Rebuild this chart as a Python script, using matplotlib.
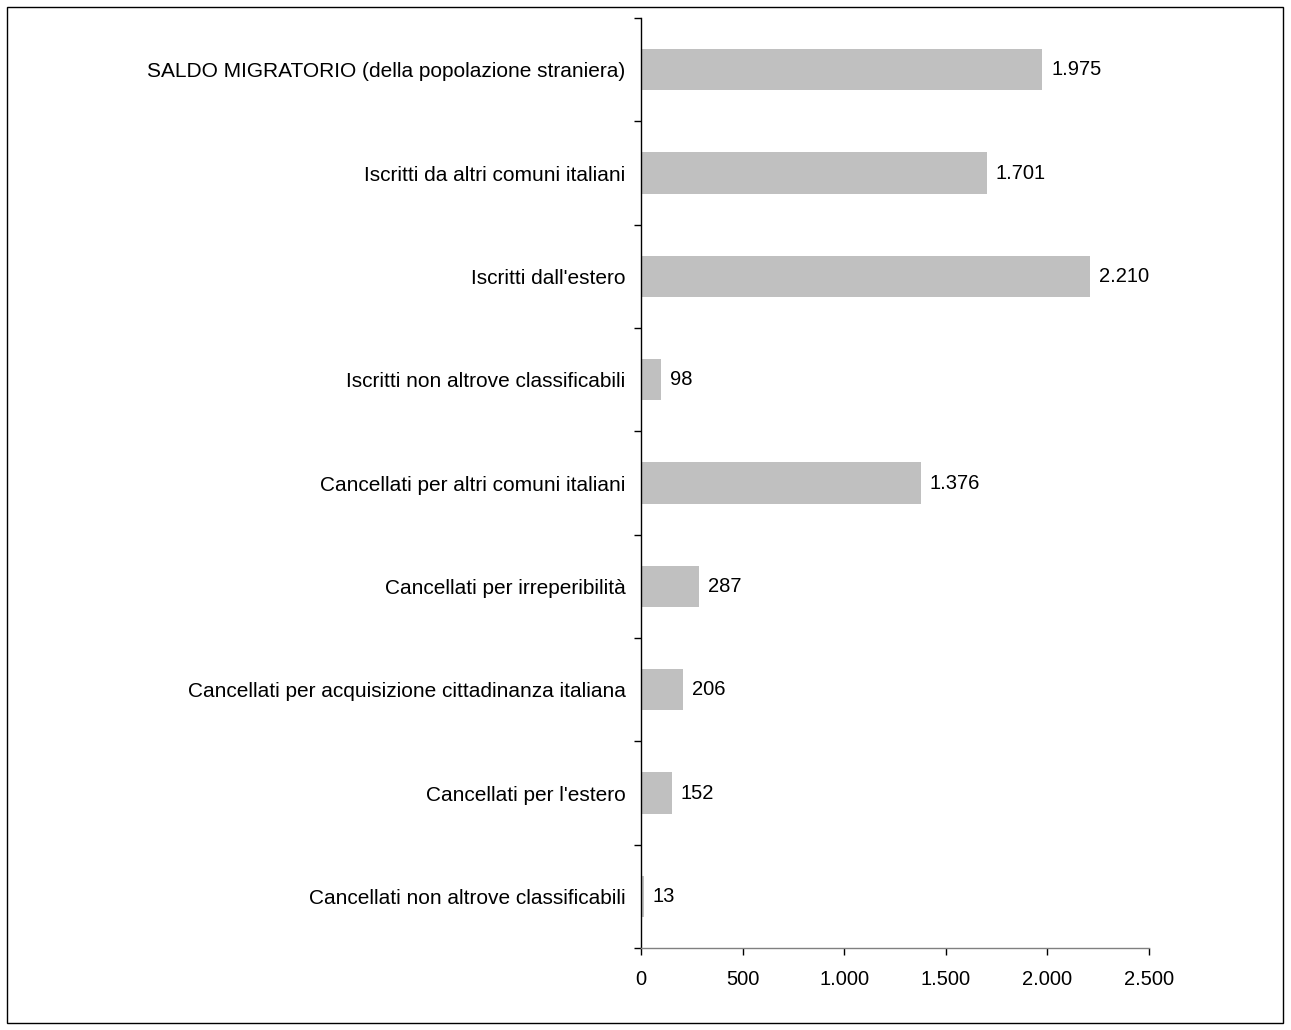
import matplotlib
matplotlib.use('Agg')
import matplotlib.pyplot as plt
from matplotlib.patches import Rectangle
from matplotlib.ticker import FuncFormatter, FixedLocator

plt.rcParams['font.family'] = ['Liberation Sans', 'DejaVu Sans']

categories = [
    'SALDO MIGRATORIO (della popolazione straniera)',
    'Iscritti da altri comuni italiani',
    "Iscritti dall'estero",
    'Iscritti non altrove classificabili',
    'Cancellati per altri comuni italiani',
    'Cancellati per irreperibilità',
    'Cancellati per acquisizione cittadinanza italiana',
    "Cancellati per l'estero",
    'Cancellati non altrove classificabili',
]
values = [1975, 1701, 2210, 98, 1376, 287, 206, 152, 13]
x_ticks = [0, 500, 1000, 1500, 2000, 2500]


def it_fmt(v, pos=None):
    return f'{int(v):,}'.replace(',', '.')


fig = plt.figure(figsize=(12.91, 10.30), dpi=100)
ax = fig.add_axes([0.4965, 0.0796, 0.3935, 0.9029])

n = len(categories)
ypos = list(range(n))
ax.barh(ypos, values, height=0.4, color='#c0c0c0', edgecolor='none')

for y, v in zip(ypos, values):
    ax.annotate(it_fmt(v), (v, y), xytext=(6.5, 0), textcoords='offset points',
                va='center', ha='left', fontsize=14.5)

ax.set_xlim(0, 2500)
ax.set_ylim(n - 0.5, -0.5)
ax.set_xticks(x_ticks)
ax.xaxis.set_major_formatter(FuncFormatter(it_fmt))

# ticks at category boundaries, labels at centers
ax.yaxis.set_major_locator(FixedLocator([i - 0.5 for i in range(n + 1)]))
ax.yaxis.set_major_formatter(FuncFormatter(lambda v, p: ''))
ax.yaxis.set_minor_locator(FixedLocator(ypos))
ax.set_yticklabels(categories, minor=True)
ax.tick_params(axis='y', which='major', direction='out', length=5, width=1)
ax.tick_params(axis='y', which='minor', length=0, pad=11, labelsize=15)
ax.tick_params(axis='x', direction='out', length=5, width=1, labelsize=14.5, pad=11)

for s in ['top', 'right']:
    ax.spines[s].set_visible(False)
ax.spines['left'].set_linewidth(1)
ax.spines['bottom'].set_linewidth(1)
ax.spines['bottom'].set_color('#808080')

fig.patches.append(Rectangle((7 / 1291, 7 / 1030), 1276 / 1291, 1016 / 1030,
                             transform=fig.transFigure, fill=False,
                             edgecolor='black', linewidth=1))

fig.savefig('out.png', dpi=100)
